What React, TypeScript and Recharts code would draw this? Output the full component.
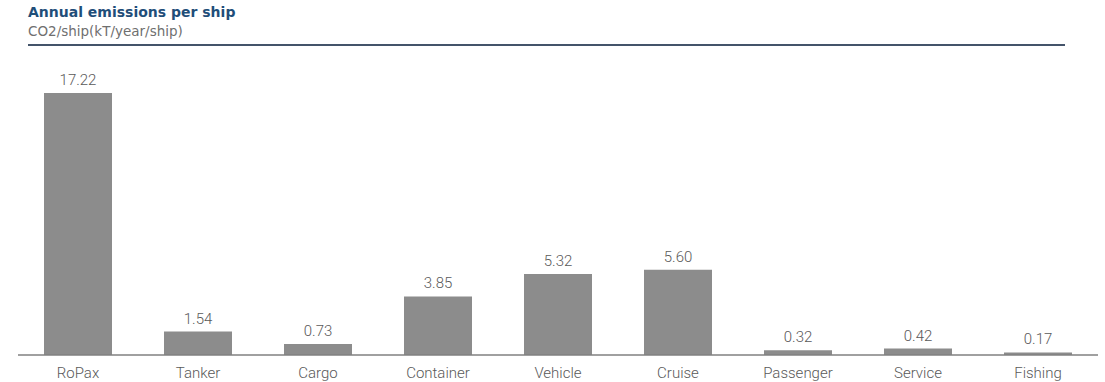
import React from 'react';
import { BarChart, Bar, XAxis, YAxis, LabelList } from 'recharts';

const categories = ['RoPax', 'Tanker', 'Cargo', 'Container', 'Vehicle', 'Cruise', 'Passenger', 'Service', 'Fishing'];
const emissions = [17.22, 1.54, 0.73, 3.85, 5.32, 5.6, 0.32, 0.42, 0.17];

const data = categories.map((name, i) => ({ name, value: emissions[i] }));

const TEXT_FONT = 'Roboto, sans-serif';

const App: React.FC = () => {
  return (
    <div style={{ position: 'absolute', left: 0, top: 0, width: 1105, height: 382, background: '#fff' }}>
      <div style={{ position: 'absolute', left: 28, top: 4, fontSize: 14, fontWeight: 700, color: '#1f4e79', fontFamily: '"DejaVu Sans", sans-serif' }}>
        Annual emissions per ship
      </div>
      <div style={{ position: 'absolute', left: 28, top: 23, fontSize: 13.5, color: '#6f6f6f', fontFamily: '"DejaVu Sans", sans-serif' }}>
        CO2/ship(kT/year/ship)
      </div>
      <div style={{ position: 'absolute', left: 28, top: 44, width: 1037, height: 2, background: '#44546a' }} />
      <div style={{ position: 'absolute', left: 0, top: 0 }}>
        <BarChart width={1105} height={382} data={data} margin={{ top: 93, right: 7, bottom: 0, left: 18 }} barCategoryGap={26}>
          <YAxis hide domain={[0, 17.22]} />
          <XAxis
            dataKey="name"
            height={27}
            tickLine={false}
            axisLine={{ stroke: '#808080', strokeWidth: 1.5 }}
            tick={{ fontSize: 15, fill: '#595959', fontFamily: TEXT_FONT, fontWeight: 300 }}
            tickMargin={6}
            interval={0}
          />
          <Bar dataKey="value" fill="#8c8c8c" isAnimationActive={false}>
            <LabelList
              dataKey="value"
              position="top"
              offset={8}
              formatter={(v: any) => Number(v).toFixed(2)}
              style={{ fontSize: 15, fill: '#595959', fontFamily: TEXT_FONT, fontWeight: 300 }}
            />
          </Bar>
        </BarChart>
      </div>
    </div>
  );
};

export default App;
